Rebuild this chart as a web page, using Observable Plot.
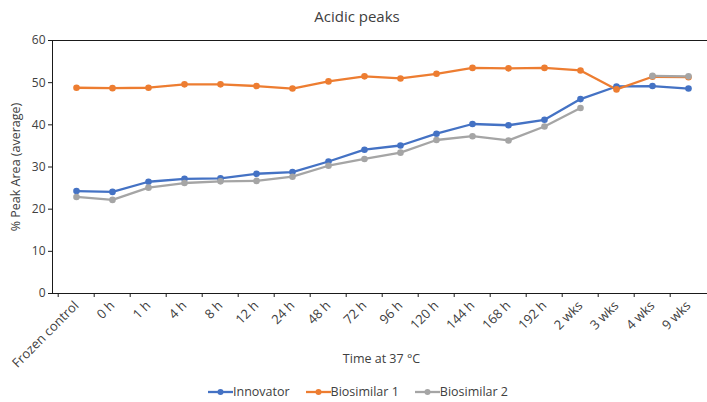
<!DOCTYPE html>
<html>
<head>
<meta charset="utf-8">
<script src="https://cdn.jsdelivr.net/npm/d3@7"></script>
<script src="https://cdn.jsdelivr.net/npm/@observablehq/plot@0.6"></script>
<style>
  body { margin: 0; background: #fff; font-family: "Open Sans", Lato, sans-serif; color: #404040; }
  #wrap { position: relative; width: 707px; height: 402px; overflow: hidden; }
  #chart { position: absolute; left: 0; top: 0; }
  #title { position: absolute; top: 6px; left: 0; width: 714px; text-align: center; font-size: 15px; }
  #xlabel { position: absolute; top: 350px; left: 0; width: 763px; text-align: center; font-size: 12.5px; }
  #ylabel { position: absolute; left: 15px; top: 167px; font-size: 12.5px; white-space: nowrap;
            transform: translate(-50%, -50%) rotate(-90deg); }
  #legend { position: absolute; top: 383px; left: 0; width: 716px; display: flex; justify-content: center;
            gap: 16px; font-size: 12.5px; }
  #legend span { display: flex; align-items: center; }
  #legend svg { margin-right: 0; }
</style>
</head>
<body>
<div id="wrap">
  <div id="chart"></div>
  <div id="title">Acidic peaks</div>
  <div id="ylabel">% Peak Area (average)</div>
  <div id="xlabel">Time at 37 °C</div>
  <div id="legend"></div>
</div>
<script>
const categories = ["Frozen control", "0 h", "1 h", "4 h", "8 h", "12 h", "24 h", "48 h", "72 h", "96 h",
  "120 h", "144 h", "168 h", "192 h", "2 wks", "3 wks", "4 wks", "9 wks"];
const seriesNames = ["Innovator", "Biosimilar 1", "Biosimilar 2"];
const colors = ["#4472C4", "#ED7D31", "#A5A5A5"];
const innovator = [24.3, 24.1, 26.5, 27.2, 27.3, 28.4, 28.8, 31.3, 34.1, 35.1, 37.9, 40.2, 39.9, 41.2, 46.1, 49.1, 49.2, 48.6];
const biosimilar1 = [48.8, 48.7, 48.8, 49.6, 49.6, 49.2, 48.6, 50.3, 51.5, 51.0, 52.1, 53.5, 53.4, 53.5, 52.9, 48.4, 51.4, 51.3];
const biosimilar2 = [22.9, 22.2, 25.1, 26.2, 26.6, 26.7, 27.7, 30.3, 31.9, 33.4, 36.4, 37.3, 36.3, 39.6, 44.0, null, 51.6, 51.5];
const yTicks = [0, 10, 20, 30, 40, 50, 60];

const seriesValues = [innovator, biosimilar1, biosimilar2];
const rows = seriesValues.flatMap((vals, s) =>
  categories.map((c, i) => ({ series: seriesNames[s], category: c, value: vals[i] })));

const step = (711 - 52) / categories.length;

const chart = Plot.plot({
  width: 707,
  height: 402,
  marginTop: 40,
  marginBottom: 109,
  marginLeft: 52,
  marginRight: 0,
  style: { fontFamily: "'Open Sans', Lato, sans-serif", fontSize: "12px", color: "#404040", background: "transparent" },
  x: { type: "point", domain: categories, range: [52, 711], padding: 0.5 },
  y: { domain: [0, 60], range: [293, 40] },
  color: { domain: seriesNames, range: colors },
  marks: [
    Plot.frame({ stroke: "#1a1a1a", strokeWidth: 1 }),
    Plot.axisY({ ticks: yTicks, tickSize: 4, tickPadding: 3, label: null, stroke: "#1a1a1a", fill: "#404040", fontSize: 12 }),
    Plot.axisX({ ticks: categories, tickSize: 0, tickRotate: -45, tickPadding: 10, label: null, fill: "#404040", fontSize: 13 }),
    Plot.ruleX(categories, { x: d => d, dx: -step / 2, y1: 0, y2: 0, insetBottom: -4, stroke: "#1a1a1a" }),
    Plot.line(rows, { x: "category", y: "value", z: "series", stroke: "series", strokeWidth: 2.3 }),
    Plot.dot(rows.filter(d => d.value != null), { x: "category", y: "value", fill: "series", r: 3.3 })
  ]
});
document.getElementById("chart").appendChild(chart);

const legend = document.getElementById("legend");
seriesNames.forEach((name, i) => {
  const item = document.createElement("span");
  item.innerHTML = `<svg width="25" height="10"><line x1="0" x2="25" y1="5" y2="5" stroke="${colors[i]}" stroke-width="2.3"/><circle cx="12.5" cy="5" r="3" fill="${colors[i]}"/></svg>${name}`;
  legend.appendChild(item);
});
</script>
</body>
</html>
